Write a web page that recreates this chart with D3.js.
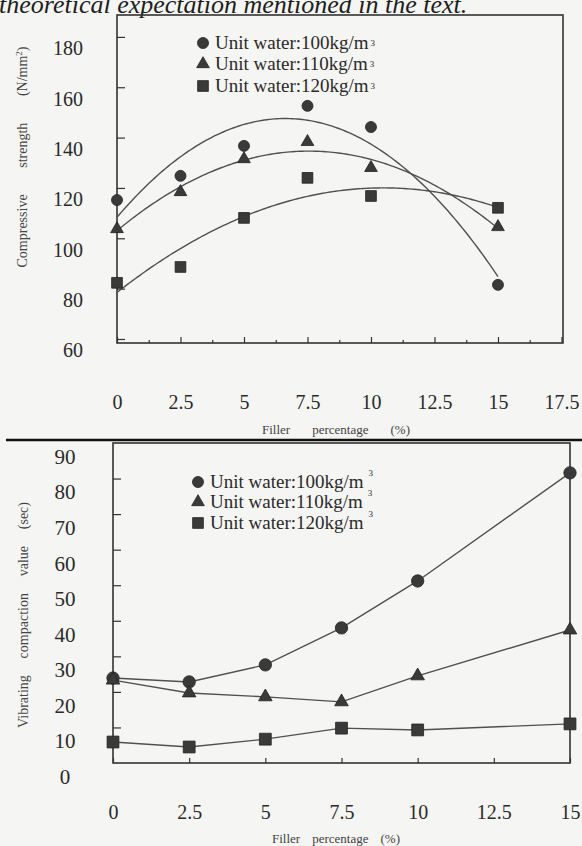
<!DOCTYPE html>
<html>
<head>
<meta charset="utf-8">
<script src="https://cdn.jsdelivr.net/npm/d3@7"></script>
<style>
  html, body { margin: 0; padding: 0; background: #f5f5f3; }
  svg { display: block; }
</style>
</head>
<body>
<svg id="fig" width="582" height="846"></svg>
<script>
// ---- data ----
const fillerPct = [0, 2.5, 5, 7.5, 10, 15];

// compressive strength (N/mm2)
const strength100 = [115.2, 124.8, 136.7, 152.6, 144.2, 81.5];
const strength110 = [103.7, 118.4, 131.5, 138.3, 128.0, 104.5];
const strength120 = [82.3, 88.6, 108.1, 124.0, 116.8, 112.1];

// vibrating compaction value (sec)
const vib100 = [23.9, 22.8, 27.6, 38.0, 51.2, 81.6];
const vib110 = [23.3, 19.7, 18.6, 17.2, 24.5, 37.4];
const vib120 = [5.9, 4.5, 6.7, 9.8, 9.3, 11.0];

const seriesNames = ["Unit water:100kg/m", "Unit water:110kg/m", "Unit water:120kg/m"];

const topYTicks = [60, 80, 100, 120, 140, 160, 180];
const topXTicks = [0, 2.5, 5, 7.5, 10, 12.5, 15, 17.5];
const topXMinor = [1.25, 3.75, 6.25, 8.75, 11.25, 13.75, 16.25];
const botYTicks = [0, 10, 20, 30, 40, 50, 60, 70, 80, 90];
const botXTicks = [0, 2.5, 5, 7.5, 10, 12.5, 15];

const SERIF = '"Liberation Serif", "DejaVu Serif", serif';
const svg = d3.select("#fig");
const ink = "#333";
const lineInk = "#505050";
const textInk = "#2a2a2a";

const symbols = [d3.symbolCircle, d3.symbolTriangle, d3.symbolSquare];

function serif(sel, size, color) {
  return sel.style("font-family", SERIF).style("font-size", size + "px").style("fill", color || textInk);
}

// heading text clipped at the top edge
serif(svg.append("text"), 26, "#1e1e1e")
  .attr("x", -1).attr("y", 13)
  .style("font-style", "italic")
  .text("theoretical expectation mentioned in the text.");

// least-squares quadratic fit used for the strength trend curves
function quadFit(xs, ys) {
  let s = [0, 0, 0, 0, 0], t = [0, 0, 0];
  xs.forEach((x, i) => {
    const y = ys[i];
    s[0] += 1; s[1] += x; s[2] += x * x; s[3] += x ** 3; s[4] += x ** 4;
    t[0] += y; t[1] += x * y; t[2] += x * x * y;
  });
  const M = [[s[0], s[1], s[2], t[0]], [s[1], s[2], s[3], t[1]], [s[2], s[3], s[4], t[2]]];
  for (let c = 0; c < 3; c++) {
    for (let r = c + 1; r < 3; r++) {
      const f = M[r][c] / M[c][c];
      for (let k = c; k < 4; k++) M[r][k] -= f * M[c][k];
    }
  }
  const co = [0, 0, 0];
  for (let r = 2; r >= 0; r--) {
    let v = M[r][3];
    for (let k = r + 1; k < 3; k++) v -= M[r][k] * co[k];
    co[r] = v / M[r][r];
  }
  return x => co[0] + co[1] * x + co[2] * x * x;
}

// widen the gaps between words so a title spans a given length
function spreadWords(sel, target) {
  const natural = sel.node().getComputedTextLength();
  const gaps = (sel.text().match(/ /g) || []).length;
  if (gaps) sel.attr("word-spacing", Math.max(0, (target - natural) / gaps));
}

function drawLegend(g, x0, rows, size, supDx, supDy) {
  rows.forEach((ry, i) => {
    g.append("path")
      .attr("transform", `translate(${x0},${ry})`)
      .attr("d", d3.symbol(symbols[i], size[i])())
      .attr("fill", "#3a3a3a").attr("stroke", "#222").attr("stroke-width", 0.8);
    const t = serif(g.append("text"), 19)
      .attr("x", x0 + 12).attr("y", ry + 6)
      .text(seriesNames[i]);
    t.append("tspan")
      .attr("dx", supDx).attr("dy", supDy)
      .style("font-size", "9px")
      .text("3");
  });
}

// ================= compressive strength =================
{
  const L = 117, R = 563, T = 15, B = 343;
  const x = d3.scaleLinear().domain([0, 17.56]).range([L, R]);
  const y = d3.scaleLinear().domain([58.4, 188.7]).range([B, T]);
  const g = svg.append("g");

  // y axis ticks and labels
  const ya = g.append("g").attr("transform", `translate(${L},0)`)
    .call(d3.axisLeft(y).tickValues(topYTicks).tickSize(-8).tickFormat(d3.format("d")));
  ya.select(".domain").remove();
  ya.selectAll("line").attr("stroke", ink).attr("stroke-width", 1.2);
  serif(ya.selectAll("text"), 20).attr("x", -34).attr("dy", "0.35em")
    .attr("transform", "translate(0,11)");

  // x axis: minor and major ticks
  const xm = g.append("g").attr("transform", `translate(0,${B})`)
    .call(d3.axisBottom(x).tickValues(topXMinor).tickSize(-3).tickFormat(""));
  xm.select(".domain").remove();
  xm.selectAll("line").attr("stroke", ink).attr("stroke-width", 1.2);
  const xa = g.append("g").attr("transform", `translate(0,${B})`)
    .call(d3.axisBottom(x).tickValues(topXTicks).tickSize(-6).tickFormat(d => String(d)));
  xa.select(".domain").remove();
  xa.selectAll("line").attr("stroke", ink).attr("stroke-width", 1.2);
  serif(xa.selectAll("text"), 20).attr("y", 59).attr("dy", "0.35em");

  // frame
  g.append("rect").attr("x", L).attr("y", T).attr("width", R - L).attr("height", B - T)
    .attr("fill", "none").attr("stroke", ink).attr("stroke-width", 1.6);

  // fitted curves
  const sets = [strength100, strength110, strength120];
  const xsCurve = d3.range(0, 15.001, 0.1);
  sets.forEach(vals => {
    const f = quadFit(fillerPct, vals);
    g.append("path")
      .attr("d", d3.line().x(d => x(d)).y(d => y(f(d)))(xsCurve))
      .attr("fill", "none").attr("stroke", lineInk).attr("stroke-width", 1.4);
  });
  // markers
  const sizes = [95, 70, 115];
  sets.forEach((vals, si) => {
    g.selectAll(null).data(vals).enter().append("path")
      .attr("transform", (d, i) => `translate(${x(fillerPct[i])},${y(d)})`)
      .attr("d", d3.symbol(symbols[si], sizes[si])())
      .attr("fill", "#3a3a3a").attr("stroke", "#222").attr("stroke-width", 0.8);
  });

  drawLegend(g, 203, [43, 64, 86], sizes, 2, -3);

  // axis titles
  const yt = serif(g.append("text"), 14, "#444")
    .attr("transform", `translate(27,157) rotate(-90)`)
    .attr("text-anchor", "middle");
  yt.append("tspan").text("Compressive strength (N/mm");
  yt.append("tspan").attr("dy", -5).style("font-size", "9px").text("2");
  yt.append("tspan").attr("dy", 5).text(")");
  spreadWords(yt, 221);

  const xt = serif(g.append("text"), 13, "#444")
    .attr("x", 336).attr("y", 434).attr("text-anchor", "middle")
    .text("Filler percentage (%)");
  spreadWords(xt, 148);
}

// separator rule
svg.append("line").attr("x1", 6).attr("x2", 582).attr("y1", 440).attr("y2", 440)
  .attr("stroke", "#111").attr("stroke-width", 2.5);

// ================= vibrating compaction =================
{
  const L = 113, R = 570, T = 443, B = 763;
  const x = d3.scaleLinear().domain([0, 15]).range([L, R]);
  const y = d3.scaleLinear().domain([0, 90]).range([B, T]);
  const g = svg.append("g");

  const ya = g.append("g").attr("transform", `translate(${L},0)`)
    .call(d3.axisLeft(y).tickValues(botYTicks.filter(v => v > 0 && v < 90)).tickSize(-8).tickFormat(""));
  ya.select(".domain").remove();
  ya.selectAll("line").attr("stroke", ink).attr("stroke-width", 1.2);

  // tick labels sit slightly below their ticks
  const yl = g.append("g").attr("transform", `translate(${L},0)`)
    .call(d3.axisLeft(y).tickValues(botYTicks).tickSize(0).tickFormat(d3.format("d")));
  yl.select(".domain").remove();
  yl.selectAll("line").remove();
  serif(yl.selectAll("text"), 21).attr("x", -48).attr("dy", "0.35em").attr("text-anchor", "middle")
    .attr("transform", "translate(0,13)");

  const xa = g.append("g").attr("transform", `translate(0,${B})`)
    .call(d3.axisBottom(x).tickValues(botXTicks).tickSize(-5).tickFormat(d => String(d)));
  xa.select(".domain").remove();
  xa.selectAll("line").attr("stroke", ink).attr("stroke-width", 1.2);
  serif(xa.selectAll("text"), 20).attr("y", 49).attr("dy", "0.35em");

  g.append("rect").attr("x", L).attr("y", T).attr("width", R - L).attr("height", B - T)
    .attr("fill", "none").attr("stroke", ink).attr("stroke-width", 1.6);

  const sets = [vib100, vib110, vib120];
  sets.forEach(vals => {
    g.append("path")
      .attr("d", d3.line().x((d, i) => x(fillerPct[i])).y(d => y(d))(vals))
      .attr("fill", "none").attr("stroke", lineInk).attr("stroke-width", 1.4);
  });
  const sizes = [120, 80, 140];
  sets.forEach((vals, si) => {
    g.selectAll(null).data(vals).enter().append("path")
      .attr("transform", (d, i) => `translate(${x(fillerPct[i])},${y(d)})`)
      .attr("d", d3.symbol(symbols[si], sizes[si])())
      .attr("fill", "#3a3a3a").attr("stroke", "#222").attr("stroke-width", 0.8);
  });

  drawLegend(g, 198, [482, 502, 523], [95, 70, 115], 5, -12);

  const yt = serif(g.append("text"), 14, "#444")
    .attr("transform", `translate(28,615) rotate(-90)`)
    .attr("text-anchor", "middle")
    .text("Vibrating compaction value (sec)");
  spreadWords(yt, 226);

  const xt = serif(g.append("text"), 13, "#444")
    .attr("x", 336).attr("y", 843).attr("text-anchor", "middle")
    .text("Filler percentage (%)");
  spreadWords(xt, 128);
}
</script>
</body>
</html>
